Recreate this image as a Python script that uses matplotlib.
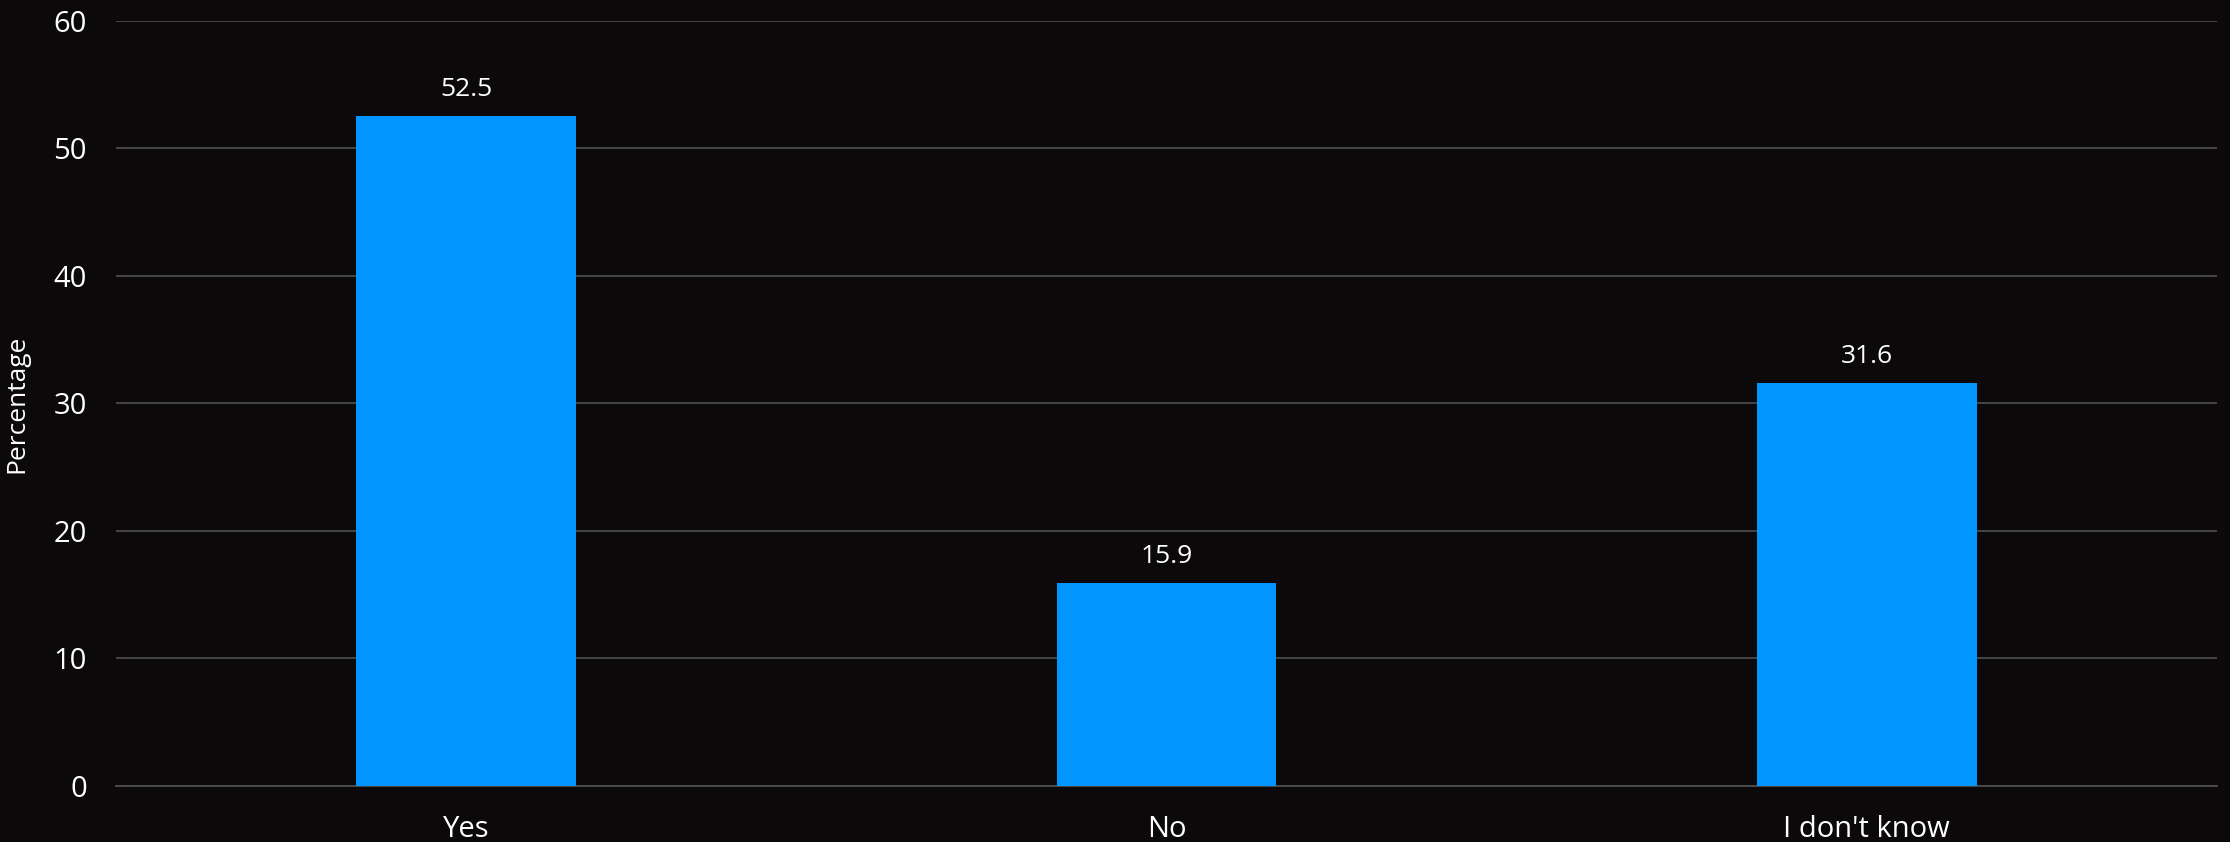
import matplotlib
matplotlib.use("Agg")
import matplotlib.pyplot as plt

categories = ["Yes", "No", "I don't know"]
values = [52.5, 15.9, 31.6]
yticks = [0, 10, 20, 30, 40, 50, 60]

bg = "#0b0909"
bar_color = "#0095FF"
grid_color = "#555555"

plt.rcParams['font.family'] = ['Open Sans', 'DejaVu Sans']

fig = plt.figure(figsize=(22.3, 8.42), dpi=100, facecolor=bg)
ax = fig.add_axes([116/2230, 56/842, 2101/2230, 765.3/842])
ax.set_facecolor(bg)

x = list(range(len(categories)))
bars = ax.bar(x, values, width=0.314, color=bar_color, zorder=3)

ax.set_xlim(-0.5, len(categories) - 0.5)
ax.set_ylim(0, 60)
ax.set_yticks(yticks)
ax.set_yticklabels([str(t) for t in yticks])
ax.set_xticks(x)
ax.set_xticklabels(categories)

ax.grid(axis='y', color=grid_color, linewidth=1.1, zorder=0)
ax.set_axisbelow(True)
for s in ['top', 'right', 'left']:
    ax.spines[s].set_visible(False)
ax.spines['bottom'].set_color("#4a4a4a")
ax.spines['bottom'].set_linewidth(1.4)

ax.tick_params(axis='both', length=0, colors='white', labelsize=21)
ax.tick_params(axis='y', pad=21)
ax.tick_params(axis='x', pad=21)

ax.set_ylabel("Percentage", color='white', fontsize=19)
ax.yaxis.set_label_coords(-0.041, 0.5)

for xi, v in zip(x, values):
    ax.annotate(f"{v}", xy=(xi, v), xytext=(0, 14.4), textcoords='offset points',
                ha='center', va='baseline', color='white', fontsize=19)

fig.savefig("out.png", dpi=100, facecolor=bg)
